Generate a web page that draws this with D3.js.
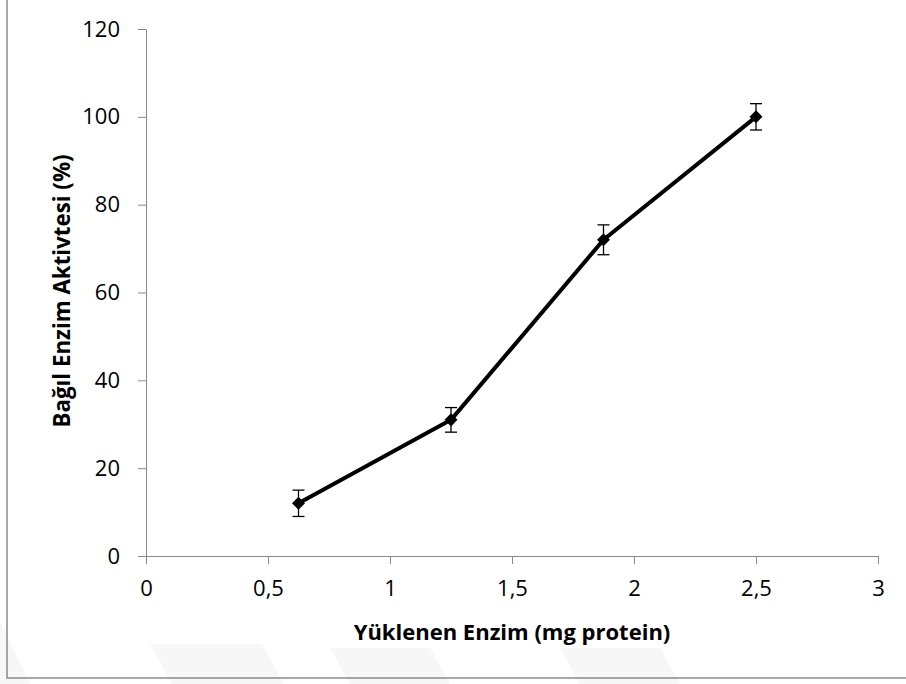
<!DOCTYPE html>
<html>
<head>
<meta charset="utf-8">
<script src="https://cdn.jsdelivr.net/npm/d3@7"></script>
<style>
  body { margin: 0; background: #fff; }
  .chart text { font-family: "Open Sans", sans-serif; fill: #000; }
  .axis path, .axis line { stroke: #898989; stroke-width: 1; }
</style>
</head>
<body>
<svg class="chart" width="906" height="684"></svg>
<script>
// Data.
const loads = [0.625, 1.25, 1.875, 2.5]; // mg protein
const activity = [12, 31, 72, 100]; // %
const errors = [3, 2.8, 3.4, 3];
const xTicks = [0, 0.5, 1, 1.5, 2, 2.5, 3];
const yTicks = [0, 20, 40, 60, 80, 100, 120];

const svg = d3.select('.chart'),
  W = 906,
  plot = { left: 146, right: 878, top: 29, bottom: 556 };

const x = d3.scaleLinear([0, 3], [plot.left, plot.right]),
  y = d3.scaleLinear([0, 120], [plot.bottom, plot.top]),
  fmt = d => String(d).replace('.', ',');

// Faint watermark tiles under the frame.
const tiles = [
  [[0, 622], [30, 684], [0, 684]],
  [[150, 644], [262, 644], [284, 684], [172, 684]],
  [[330, 648], [430, 648], [450, 684], [350, 684]],
  [[560, 648], [660, 648], [680, 684], [580, 684]],
];
svg
  .selectAll('.tile')
  .data(tiles)
  .enter()
  .append('polygon')
  .attr('class', 'tile')
  .attr('points', p => p.join(' '))
  .attr('fill', '#f7f7f7');

// Frame (only left and bottom edges are in view).
svg
  .append('path')
  .attr('d', `M7,0 V678 H${W}`)
  .attr('fill', 'none')
  .attr('stroke', '#8a8a8a')
  .attr('stroke-width', 1.5);

// Axes.
const xAxis = svg
  .append('g')
  .attr('class', 'axis')
  .attr('transform', `translate(0,${plot.bottom})`)
  .call(d3.axisBottom(x).tickValues(xTicks).tickFormat(fmt).tickSize(8).tickSizeOuter(0).tickPadding(16));
svg
  .append('g')
  .attr('class', 'axis')
  .attr('transform', `translate(${plot.left},0)`)
  .call(d3.axisLeft(y).tickValues(yTicks).tickSize(8).tickSizeOuter(0).tickPadding(18));
svg.selectAll('.axis text').attr('font-size', 22).attr('font-family', '"Open Sans", sans-serif');
xAxis.select('.domain').attr('d', `M${plot.left},0.5H${plot.right}`);

// Axis titles.
svg
  .append('text')
  .attr('x', 512)
  .attr('y', 640)
  .attr('text-anchor', 'middle')
  .attr('font-size', 22)
  .attr('font-weight', 'bold')
  .text('Yüklenen Enzim (mg protein)');
svg
  .append('text')
  .attr('transform', 'translate(70,291) rotate(-90)')
  .attr('text-anchor', 'middle')
  .attr('font-size', 22.3)
  .attr('font-weight', 'bold')
  .text('Bağıl Enzim Aktivtesi (%)');

const points = loads.map((l, i) => ({ l, v: activity[i], e: errors[i] }));

// Series line.
svg
  .append('path')
  .datum(points)
  .attr('fill', 'none')
  .attr('stroke', '#000')
  .attr('stroke-width', 4)
  .attr('stroke-linejoin', 'round')
  .attr('d', d3.line(d => x(d.l), d => y(d.v)));

// Error bars.
const bars = svg
  .selectAll('.err')
  .data(points)
  .enter()
  .append('g')
  .attr('class', 'err')
  .attr('stroke', '#000')
  .attr('stroke-width', 1.3);
bars
  .append('line')
  .attr('x1', d => x(d.l))
  .attr('x2', d => x(d.l))
  .attr('y1', d => y(d.v + d.e))
  .attr('y2', d => y(d.v - d.e));
[1, -1].forEach(s =>
  bars
    .append('line')
    .attr('x1', d => x(d.l) - 6)
    .attr('x2', d => x(d.l) + 6)
    .attr('y1', d => y(d.v + s * d.e))
    .attr('y2', d => y(d.v + s * d.e))
);

// Diamond markers.
svg
  .selectAll('.marker')
  .data(points)
  .enter()
  .append('path')
  .attr('class', 'marker')
  .attr('d', d3.symbol(d3.symbolSquare, 85))
  .attr('transform', d => `translate(${x(d.l)},${y(d.v)}) rotate(45)`)
  .attr('fill', '#000');
</script>
</body>
</html>
